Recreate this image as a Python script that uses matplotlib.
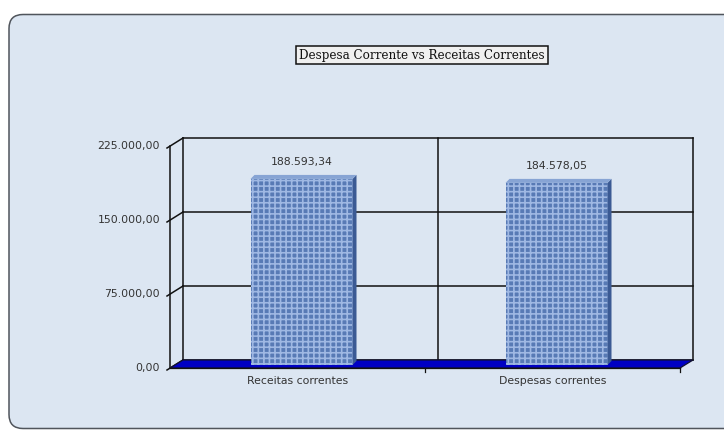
import matplotlib
matplotlib.use("Agg")
import matplotlib.pyplot as plt
from matplotlib.patches import FancyBboxPatch, Polygon

categories = ["Receitas correntes", "Despesas correntes"]
values = [188593.34, 184578.05]
yticks = [0, 75000, 150000, 225000]
title = "Despesa Corrente vs Receitas Correntes"


def fmt_pt(v):
    s = f"{v:,.2f}"
    return s.replace(",", "X").replace(".", ",").replace("X", ".")


W, H = 724, 433
plt.rcParams["hatch.linewidth"] = 1.2
fig = plt.figure(figsize=(W / 100, H / 100), dpi=100)
fig.patch.set_facecolor("white")

# background panel (pixel coords)
bg = fig.add_axes([0, 0, 1, 1])
bg.set_xlim(0, W)
bg.set_ylim(H, 0)
bg.axis("off")
bg.add_patch(FancyBboxPatch((9, 14.5), W + 20, 414, boxstyle="round,pad=0,rounding_size=14",
                            facecolor="#dce6f2", edgecolor="#50555c", linewidth=1.1))

# main axes: front plane
ax = fig.add_axes([170 / W, 65 / H, 510 / W, 222 / H])
ax.set_xlim(-0.5, 1.5)
ax.set_ylim(0, 225000)
ax.patch.set_alpha(0)
for s in ax.spines.values():
    s.set_visible(False)
ax.set_xticks([])
ax.set_yticks([])

px_x = 2 / 510.0
px_y = 225000 / 222.0
DX = 13 * px_x
DY = 8 * px_y
x0, x1 = -0.5, 1.5
lc = "#111111"
lw = 1.1
tc = "#333333"

# floor slab
ax.add_patch(Polygon([(x0, 0), (x1, 0), (x1 + DX, DY), (x0 + DX, DY)], closed=True,
                     facecolor="#0000c4", edgecolor="#111133", linewidth=0.9, clip_on=False, zorder=2))

# back wall gridlines and frame
for t in yticks:
    ax.plot([x0 + DX, x1 + DX], [t + DY, t + DY], color=lc, lw=lw, clip_on=False, zorder=1)
    ax.plot([x0 - 3 * px_x, x0 + DX], [t - 2 * px_y, t + DY], color=lc, lw=lw, clip_on=False, zorder=1)
    ax.text(x0 - 10 * px_x, t, fmt_pt(t), ha="right", va="center", fontsize=7.8,
            color=tc, family="DejaVu Sans")
for xv in [x0 + DX, 0.5 + DX, x1 + DX]:
    ax.plot([xv, xv], [DY, 225000 + DY], color=lc, lw=lw, clip_on=False, zorder=1)
ax.plot([x0, x0], [0, 225000], color=lc, lw=lw, clip_on=False, zorder=1)
ax.plot([x0, x1], [0, 0], color=lc, lw=0.9, clip_on=False, zorder=3)
for xv in [0.5, x1]:
    ax.plot([xv, xv], [0, -4 * px_y], color=lc, lw=0.9, clip_on=False, zorder=3)

# bars
bw = 0.4
bdx = 4 * px_x
bdy = 3 * px_y
depth_x = 4 * px_x
depth_y = 4 * px_y
xs = [i + bdx for i in range(len(values))]
bars = ax.bar(xs, values, width=bw, bottom=bdy, color="#587ab5", edgecolor="#9fb8e3",
              hatch="+++", linewidth=0, zorder=4)
for b in bars:
    b.set_clip_on(False)
for i, v in enumerate(values):
    l = xs[i] - bw / 2
    r = xs[i] + bw / 2
    top = v + bdy
    ax.add_patch(Polygon([(r, bdy), (r + depth_x, bdy + depth_y), (r + depth_x, top + depth_y), (r, top)],
                         closed=True, facecolor="#3b5a94", edgecolor="none", clip_on=False, zorder=4))
    ax.add_patch(Polygon([(l, top), (r, top), (r + depth_x, top + depth_y), (l + depth_x, top + depth_y)],
                         closed=True, facecolor="#87a4d4", edgecolor="none", clip_on=False, zorder=4))
    ax.annotate(fmt_pt(v), (xs[i], top), xytext=(0, 12), textcoords="offset pixels",
                ha="center", va="bottom", fontsize=7.8, color=tc, family="DejaVu Sans")
    ax.text(i, -8 * px_y, categories[i], ha="center", va="top", fontsize=7.8,
            color=tc, family="DejaVu Sans")

# title box
fig.text(422 / W, 1 - 55 / H, title, ha="center", va="center", fontsize=8.6,
         family="DejaVu Serif", color="#111111",
         bbox=dict(boxstyle="square,pad=0.25", facecolor="#f0f0f0", edgecolor="#111111", linewidth=1.1))

fig.savefig("out.png", dpi=100)
